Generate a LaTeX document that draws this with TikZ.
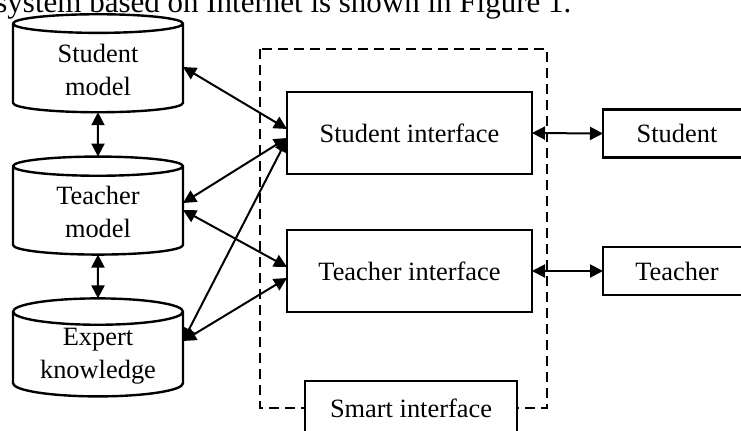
\documentclass[tikz,border=0pt]{standalone}
\usepackage{fontspec}
\setmainfont{Liberation Serif}
\usetikzlibrary{arrows.meta,shapes.geometric,positioning}

\begin{document}
\begin{tikzpicture}[
    x=0.5pt, y=-0.5pt,
    base/.style={font=\fontsize{13.2}{16.5}\selectfont, align=center, line width=1.2pt, fill=white, outer sep=0pt},
    db/.style={base, draw, cylinder, shape border rotate=90, aspect=0.22, minimum width=85pt, minimum height=49pt, inner sep=1pt},
    box/.style={base, draw, rectangle, minimum width=122.5pt, minimum height=41pt},
    user/.style={base, draw, rectangle, minimum width=74pt, minimum height=24pt},
    arrow/.style={{Triangle[length=6.5pt,width=6.5pt]}-{Triangle[length=6.5pt,width=6.5pt]}, line width=1pt}
]
    \useasboundingbox (0,0) rectangle (741,430);

    % Databases
    \node[db] (sm) at (98,69.5) {Student\\model};
    \node[db] (tm) at (98,212) {Teacher\\model};
    \node[db] (ek) at (98,356) {Expert\\knowledge};

    % Smart interface frame
    \draw[line width=1pt, dash pattern=on 5pt off 3pt] (260,49) rectangle (547,408);

    % Interfaces
    \node[box] (si) at (409.5,133) {Student interface};
    \node[box] (ti) at (409.5,271) {Teacher interface};
    \node[base, draw, minimum width=106pt, minimum height=27pt] (smart) at (411,408) {Smart interface};

    % Users
    \node[user] (st) at (677,133.5) {Student};
    \node[user] (te) at (677,271) {Teacher};

    % Arrows
    \draw[arrow] (sm.south) -- (tm.north);
    \draw[arrow] (tm.south) -- (ek.north);
    \draw[arrow] ([yshift=1.25pt]sm.east) -- ([yshift=2pt]si.west);
    \draw[arrow] ([yshift=4.5pt]tm.east) -- ([yshift=-2.5pt]si.west);
    \draw[arrow] ([yshift=7.5pt]ek.east) -- ([yshift=-3pt]si.west);
    \draw[arrow] ([yshift=1pt]tm.east) -- ([yshift=2pt]ti.west);
    \draw[arrow] ([yshift=7.5pt]ek.east) -- ([yshift=-3.5pt]ti.west);
    \draw[arrow] (si.east) -- (st.west);
    \draw[arrow] (ti.east) -- (te.west);

    % Caption line cut at the top
    \node[anchor=base west, inner sep=0pt, font=\fontsize{15.5}{18}\selectfont] (caption) at (-5,12.5) {system based on Internet is shown in Figure 1.};
\end{tikzpicture}
\end{document}
